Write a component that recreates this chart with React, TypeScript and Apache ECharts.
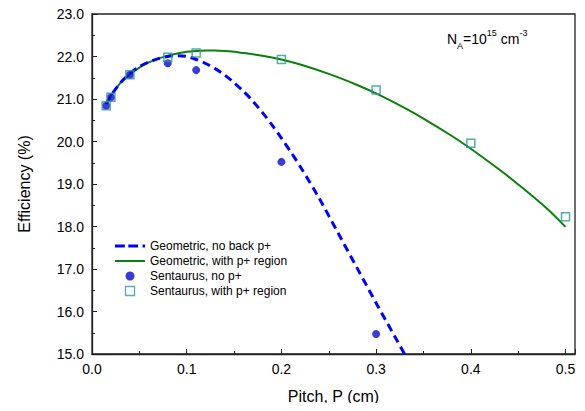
import React, { useEffect, useRef } from "react";
import * as echarts from "echarts";

const geoNoBackX = [0.015, 0.02, 0.03, 0.04, 0.05, 0.06, 0.07, 0.08, 0.09, 0.1, 0.11, 0.12, 0.13, 0.14, 0.15, 0.16, 0.17, 0.18, 0.19, 0.2, 0.21, 0.22, 0.24, 0.26, 0.28, 0.3, 0.32, 0.34];
const geoNoBackY = [20.88, 21.08, 21.38, 21.6, 21.76, 21.87, 21.95, 22.0, 22.02, 22.0, 21.93, 21.835, 21.715, 21.565, 21.385, 21.18, 20.945, 20.68, 20.39, 20.08, 19.75, 19.405, 18.66, 17.84, 17.02, 16.2, 15.4, 14.6];

const geoWithPX = [0.015, 0.02, 0.03, 0.04, 0.05, 0.06, 0.07, 0.08, 0.09, 0.1, 0.11, 0.12, 0.13, 0.14, 0.15, 0.16, 0.18, 0.2, 0.22, 0.25, 0.28, 0.3, 0.33, 0.35, 0.38, 0.4, 0.43, 0.45, 0.48, 0.5];
const geoWithPY = [20.9, 21.08, 21.38, 21.58, 21.74, 21.86, 21.95, 22.02, 22.07, 22.11, 22.13, 22.14, 22.14, 22.13, 22.11, 22.08, 22.02, 21.93, 21.81, 21.59, 21.33, 21.13, 20.79, 20.54, 20.13, 19.83, 19.34, 18.99, 18.43, 17.99];

const sentNoPX = [0.015, 0.02, 0.04, 0.08, 0.11, 0.2, 0.3];
const sentNoPY = [20.84, 21.04, 21.57, 21.84, 21.68, 19.52, 15.47];

const sentWithPX = [0.015, 0.02, 0.04, 0.08, 0.11, 0.2, 0.3, 0.4, 0.5];
const sentWithPY = [20.84, 21.04, 21.57, 21.98, 22.08, 21.93, 21.21, 19.96, 18.23];

const seriesNames = [
  "Geometric, no back p+",
  "Geometric, with p+ region",
  "Sentaurus, no p+",
  "Sentaurus, with p+ region",
];

const FONT = "Arial, 'Liberation Sans', sans-serif";
const zip = (xs: number[], ys: number[]) => xs.map((x, i) => [x, ys[i]]);

const BLUE_LINE = "#0000ff";
const GREEN = "#0b800b";
const BLUE_DOT = "#0a0acc";
const TEAL = "#2e9696";

export default function App() {
  const ref = useRef<HTMLDivElement>(null);
  useEffect(() => {
    if (!ref.current) return;
    const chart = echarts.init(ref.current, undefined, { renderer: "svg" });
    const axisColor = "#222";
    chart.setOption({
      animation: false,
      backgroundColor: "#fff",
      grid: {
        left: 92,
        right: 10,
        top: 14,
        bottom: 57,
        show: true,
        borderColor: axisColor,
        borderWidth: 1.3,
        backgroundColor: "transparent",
      },
      xAxis: [
        {
          type: "value",
          min: 0,
          max: 0.51,
          interval: 0.05,
          name: "Pitch, P (cm)",
          nameLocation: "middle",
          nameGap: 34,
          nameTextStyle: { fontFamily: FONT, fontSize: 16, color: "#000" },
          axisLine: { show: true, lineStyle: { color: axisColor, width: 1.3 } },
          axisTick: { show: true, inside: true, length: 3, lineStyle: { color: axisColor } },
          splitLine: { show: false },
          axisLabel: {
            fontFamily: FONT,
            fontSize: 14,
            color: "#000",
            margin: 8,
            formatter: (v: number) => (Math.round(v * 100) % 10 === 0 ? v.toFixed(1) : ""),
          },
        },
        {
          type: "value",
          position: "bottom",
          min: 0,
          max: 0.51,
          interval: 0.1,
          axisLine: { show: false },
          axisTick: { show: true, inside: true, length: 5, lineStyle: { color: axisColor } },
          axisLabel: { show: false },
          splitLine: { show: false },
        },
      ],
      yAxis: {
        type: "value",
        min: 15,
        max: 23,
        interval: 1,
        name: "Efficiency (%)",
        nameLocation: "middle",
        nameGap: 60,
        nameTextStyle: { fontFamily: FONT, fontSize: 16, color: "#000" },
        axisLine: { show: true, lineStyle: { color: axisColor, width: 1.3 } },
        axisTick: { show: true, inside: true, length: 5, lineStyle: { color: axisColor } },
        minorTick: { show: true, splitNumber: 2, length: 3, lineStyle: { color: axisColor } },
        splitLine: { show: false },
        axisLabel: {
          fontFamily: FONT,
          fontSize: 14,
          color: "#000",
          margin: 8,
          formatter: (v: number) => v.toFixed(1),
        },
      },
      legend: {
        orient: "vertical",
        left: 110,
        top: 234,
        itemWidth: 30,
        itemHeight: 9,
        itemGap: 1,
        textStyle: { fontFamily: FONT, fontSize: 12, color: "#000", lineHeight: 14 },
        data: [
          {
            name: seriesNames[0],
            icon: "path://M0,0h10v3h-10z M13.5,0h10v3h-10z M28,0h2.5v3h-2.5z",
            itemStyle: { color: BLUE_LINE, borderWidth: 0 },
          },
          {
            name: seriesNames[1],
            icon: "path://M0,0h30v2h-30z",
            itemStyle: { color: GREEN, borderWidth: 0 },
          },
          { name: seriesNames[2], icon: "circle", itemStyle: { color: BLUE_DOT, borderWidth: 0 } },
          {
            name: seriesNames[3],
            icon: "path://M0,0h8v8h-8z",
            itemStyle: { color: "transparent", borderColor: TEAL, borderWidth: 1.3 },
          },
        ],
      },
      graphic: [
        {
          type: "text",
          left: 447,
          top: 28,
          style: {
            text: "N{sub|A}=10{sup|15} cm{sup|-3}",
            fontFamily: FONT,
            fontSize: 14,
            fill: "#000",
            lineHeight: 22,
            rich: {
              sub: { fontFamily: FONT, fontSize: 9, verticalAlign: "bottom", lineHeight: 14, fill: "#000" },
              sup: { fontFamily: FONT, fontSize: 9, verticalAlign: "top", lineHeight: 14, fill: "#000" },
            },
          },
        },
      ],
      series: [
        {
          name: seriesNames[1],
          type: "line",
          data: zip(geoWithPX, geoWithPY),
          symbol: "none",
          symbolKeepAspect: true,
          smooth: 0.3,
          lineStyle: { color: GREEN, width: 2 },
          itemStyle: { color: GREEN },
          z: 2,
        },
        {
          name: seriesNames[0],
          type: "line",
          data: zip(geoNoBackX, geoNoBackY),
          symbol: "none",
          symbolKeepAspect: true,
          smooth: 0.3,
          lineStyle: { color: BLUE_LINE, width: 3, type: [8, 5] },
          itemStyle: { color: BLUE_LINE },
          z: 3,
        },
        {
          name: seriesNames[2],
          type: "scatter",
          data: zip(sentNoPX, sentNoPY),
          symbol: "circle",
          symbolSize: 8,
          symbolKeepAspect: true,
          itemStyle: { color: BLUE_DOT },
          z: 4,
        },
        {
          name: seriesNames[3],
          type: "scatter",
          data: zip(sentWithPX, sentWithPY),
          symbol: "rect",
          symbolSize: 8,
          symbolKeepAspect: true,
          itemStyle: { color: "transparent", borderColor: TEAL, borderWidth: 1.5 },
          z: 5,
        },
      ],
    });
    return () => chart.dispose();
  }, []);
  return <div ref={ref} style={{ width: 585, height: 411, margin: -8 }} />;
}
